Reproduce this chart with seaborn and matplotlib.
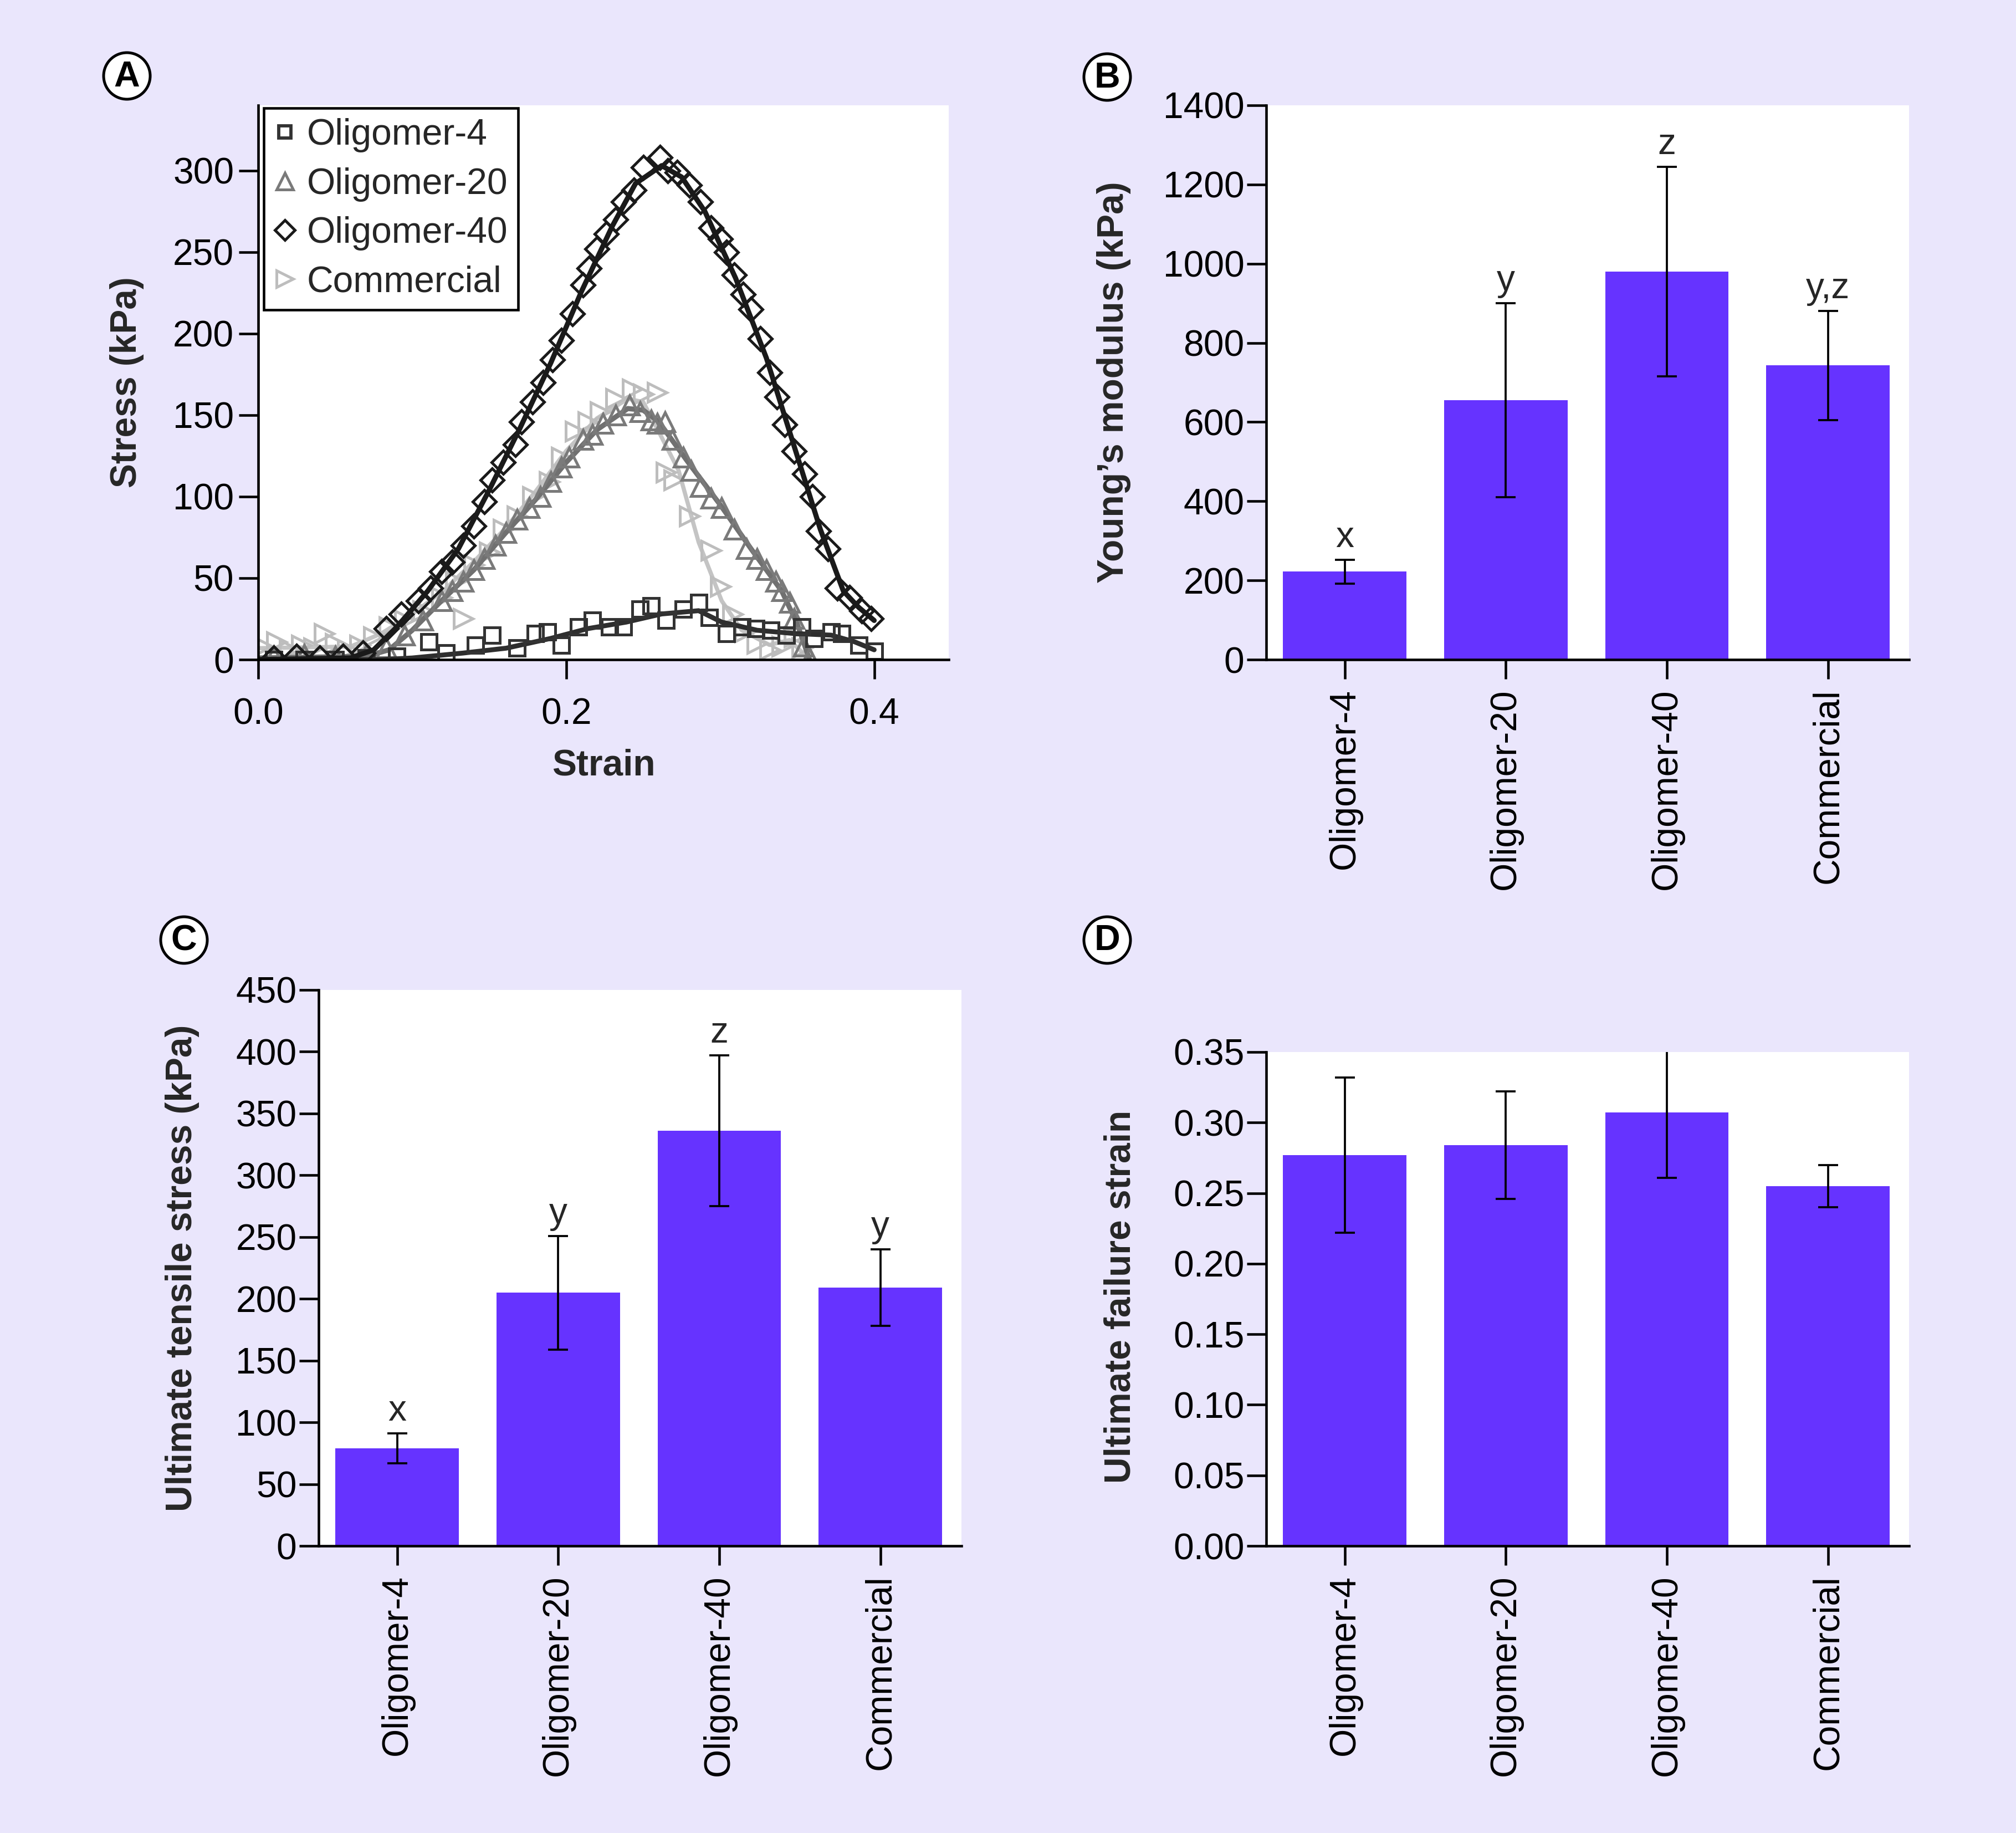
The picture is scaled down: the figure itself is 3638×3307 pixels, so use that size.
import numpy as np
import pandas as pd
import matplotlib
matplotlib.use("Agg")
import matplotlib.pyplot as plt
import seaborn as sns
from matplotlib.patches import Circle
from matplotlib.lines import Line2D

# ---------------- data ----------------
groups = ["Oligomer-4", "Oligomer-20", "Oligomer-40", "Commercial"]

# Panel A: measured points (strain, stress kPa)
o4_strain = [0.01, 0.03, 0.05, 0.07, 0.09, 0.111, 0.122, 0.141, 0.152, 0.168, 0.180, 0.188, 0.197,
             0.208, 0.217, 0.228, 0.237, 0.248, 0.255, 0.265, 0.276, 0.286, 0.293, 0.304, 0.314,
             0.323, 0.333, 0.343, 0.353, 0.361, 0.372, 0.379, 0.390, 0.400]
o4_stress = [0, 0, 0, 1, 2, 11, 4, 9, 15, 7, 16, 17, 9,
             20, 24, 20, 20, 31, 33, 24, 31, 35, 26, 16, 20,
             19, 18, 15, 20, 13, 17, 16, 9, 5]
o4_fit_strain = [0.0, 0.08, 0.10, 0.133, 0.161, 0.19, 0.214, 0.239, 0.262, 0.286, 0.301, 0.324, 0.348, 0.372, 0.387, 0.40]
o4_fit_stress = [0, 0, 1, 4, 7, 13, 19, 23, 28, 30, 23, 18, 16, 15, 11, 6]

o20_strain = [0.01, 0.03, 0.05, 0.07, 0.083, 0.095, 0.107, 0.119, 0.126, 0.133, 0.140, 0.147, 0.154,
              0.161, 0.168, 0.176, 0.183, 0.190, 0.197, 0.202, 0.211, 0.217, 0.224, 0.232, 0.241,
              0.248, 0.255, 0.259, 0.264, 0.269, 0.276, 0.281, 0.287, 0.294, 0.301, 0.309, 0.317,
              0.324, 0.330, 0.336, 0.340, 0.345, 0.348, 0.354, 0.358]
o20_stress = [2, 3, 2, 3, 7, 15, 24, 36, 42, 48, 55, 62, 70,
              78, 86, 93, 100, 109, 118, 124, 135, 138, 145, 150, 156,
              152, 147, 145, 146, 135, 124, 116, 106, 99, 93, 80, 68,
              62, 55, 48, 42, 35, 25, 8, 1]
o20_fit_strain = [0.0, 0.07, 0.085, 0.10, 0.12, 0.14, 0.16, 0.18, 0.20, 0.22, 0.24, 0.25, 0.26, 0.28, 0.30, 0.32, 0.34, 0.35, 0.358]
o20_fit_stress = [1, 2, 6, 18, 37, 55, 77, 98, 121, 141, 154, 153, 146, 120, 95, 68, 42, 22, 0]

o40_strain = [0.01, 0.025, 0.04, 0.055, 0.068, 0.083, 0.093, 0.104, 0.112, 0.119, 0.126, 0.133, 0.140,
              0.147, 0.152, 0.159, 0.167, 0.171, 0.178, 0.185, 0.191, 0.197, 0.204, 0.211, 0.215,
              0.220, 0.226, 0.232, 0.237, 0.244, 0.250, 0.261, 0.266, 0.272, 0.280, 0.287, 0.294,
              0.300, 0.304, 0.309, 0.315, 0.320, 0.326, 0.332, 0.337, 0.342, 0.348, 0.355, 0.360,
              0.364, 0.370, 0.376, 0.384, 0.392, 0.398]
o40_stress = [1, 2, 1, 2, 4, 19, 28, 36, 44, 54, 60, 70, 82,
              97, 110, 121, 132, 146, 158, 170, 184, 196, 212, 230, 240,
              252, 261, 270, 281, 288, 302, 308, 300, 299, 291, 281, 265,
              258, 250, 236, 224, 215, 197, 176, 161, 144, 128, 114, 100,
              79, 68, 44, 38, 30, 25]
o40_fit_strain = [0.0, 0.06, 0.075, 0.09, 0.11, 0.13, 0.15, 0.17, 0.19, 0.21, 0.23, 0.245, 0.262,
                  0.275, 0.29, 0.31, 0.33, 0.35, 0.365, 0.38, 0.39, 0.40]
o40_fit_stress = [0, 1, 6, 20, 42, 68, 104, 142, 182, 226, 266, 292, 303,
                  296, 275, 234, 185, 125, 80, 42, 32, 24]

com_strain = [0.003, 0.012, 0.02, 0.028, 0.036, 0.043, 0.05, 0.058, 0.066, 0.075, 0.085, 0.095, 0.107,
              0.119, 0.128, 0.133, 0.140, 0.150, 0.159, 0.168, 0.178, 0.189, 0.197, 0.206, 0.214,
              0.222, 0.232, 0.243, 0.250, 0.259, 0.265, 0.270, 0.280, 0.294, 0.300, 0.308, 0.316,
              0.324, 0.332, 0.340, 0.348, 0.353]
com_stress = [8, 11, 6, 9, 7, 16, 10, 6, 9, 14, 20, 24, 30,
              38, 48, 25, 58, 66, 80, 88, 100, 109, 124, 140, 146,
              152, 160, 166, 163, 164, 115, 110, 88, 67, 45, 28, 17,
              10, 6, 8, 14, 7]
com_fit_strain = [0.0, 0.06, 0.08, 0.10, 0.12, 0.14, 0.16, 0.18, 0.20, 0.22, 0.24, 0.25, 0.26, 0.273,
                  0.286, 0.301, 0.314, 0.332, 0.345, 0.356]
com_fit_stress = [7, 8, 16, 28, 42, 60, 80, 103, 128, 148, 160, 158, 140, 116,
                  72, 36, 18, 9, 12, 2]

# Panel B: Young's modulus (kPa)
modulus_mean = [222, 655, 980, 743]
modulus_err = [30, 245, 265, 138]
modulus_letters = ["x", "y", "z", "y,z"]

# Panel C: Ultimate tensile stress (kPa)
uts_mean = [79, 205, 336, 209]
uts_err = [12, 46, 61, 31]
uts_letters = ["x", "y", "z", "y"]

# Panel D: Ultimate failure strain
ufs_mean = [0.277, 0.284, 0.307, 0.255]
ufs_err = [0.055, 0.038, 0.046, 0.015]

# ---------------- style ----------------
sns.set_style("ticks")
plt.rcParams['font.family'] = ['Liberation Sans', 'DejaVu Sans']
plt.rcParams['axes.linewidth'] = 1.1
plt.rcParams['xtick.major.width'] = 1.1
plt.rcParams['ytick.major.width'] = 1.1

BG = "#EAE6FC"
BAR = "#6633FF"
FS = 15.8
LFS = 15.8

W, H, DPI = 3638, 3307, 300
fig = plt.figure(figsize=(W / DPI, H / DPI), dpi=DPI, facecolor=BG)

def frac(left, top, right, bottom):
    return [left / W, 1 - bottom / H, (right - left) / W, (bottom - top) / H]

axA = fig.add_axes(frac(466, 190, 1712, 1190))
axB = fig.add_axes(frac(2285, 190, 3445, 1190))
axC = fig.add_axes(frac(575, 1786, 1735, 2789))
axD = fig.add_axes(frac(2285, 1898, 3445, 2789))

def style_axes(ax):
    ax.set_facecolor("white")
    for s in ["top", "right"]:
        ax.spines[s].set_visible(False)
    for s in ["left", "bottom"]:
        ax.spines[s].set_color("black")
    ax.tick_params(axis="both", direction="out", length=8.5, width=1.1, colors="black",
                   labelsize=FS, pad=2)

# ---------------- Panel A ----------------
style_axes(axA)
series = [
    ("Commercial", com_strain, com_stress, com_fit_strain, com_fit_stress, ">", "#BDBDBD", "#C4C4C4", 8, 1.8),
    ("Oligomer-20", o20_strain, o20_stress, o20_fit_strain, o20_fit_stress, "^", "#7A7A7A", "#707070", 8, 2.2),
    ("Oligomer-4", o4_strain, o4_stress, o4_fit_strain, o4_fit_stress, "s", "#333333", "#2E2E2E", 6.5, 2.1),
    ("Oligomer-40", o40_strain, o40_stress, o40_fit_strain, o40_fit_stress, "D", "#1A1A1A", "#1A1A1A", 7.2, 2.2),
]
for name, sx, sy, fx, fy, mk, mc, lc, ms, lw in series:
    sns.lineplot(x=fx, y=fy, ax=axA, color=lc, lw=lw, sort=False, estimator=None, legend=False)
    axA.plot(sx, sy, ls="none", marker=mk, mfc="none", mec=mc, ms=ms, mew=1.2)

axA.set_xlim(0, 0.4484)
axA.set_ylim(0, 340)
axA.set_xticks([0.0, 0.2, 0.4])
axA.set_xticklabels(["0.0", "0.2", "0.4"])
axA.set_yticks(np.arange(0, 301, 50))
axA.set_xlabel("Strain", fontsize=LFS, fontweight="bold")
axA.set_ylabel("Stress (kPa)", fontsize=LFS, fontweight="bold")
axA.xaxis.set_label_coords(0.5, -0.16)
axA.yaxis.set_label_coords(-0.165, 0.5)
axA.tick_params(axis="x", pad=8)

handles = [
    Line2D([], [], ls="none", marker="s", mfc="none", mec="#333333", ms=5.5, mew=1.4),
    Line2D([], [], ls="none", marker="^", mfc="none", mec="#7A7A7A", ms=7, mew=1.2),
    Line2D([], [], ls="none", marker="D", mfc="none", mec="#1A1A1A", ms=6, mew=1.2),
    Line2D([], [], ls="none", marker=">", mfc="none", mec="#BDBDBD", ms=7, mew=1.2),
]
leg = axA.legend(handles, ["Oligomer-4", "Oligomer-20", "Oligomer-40", "Commercial"],
                 loc="upper left", bbox_to_anchor=(0.008, 0.995), borderaxespad=0,
                 fontsize=FS, frameon=True, fancybox=False, edgecolor="black",
                 framealpha=1, handlelength=0.6, handletextpad=0.3, borderpad=0.28,
                 labelspacing=0.4)
leg.get_frame().set_linewidth(1.1)

# ---------------- bar panels ----------------
def bar_panel(ax, means, errs, letters, ylim, yticks, ylabel, labx, laby, letter_off, fmt=None):
    style_axes(ax)
    df = pd.DataFrame({"group": groups, "value": means})
    sns.barplot(data=df, x="group", y="value", color=BAR, saturation=1, width=0.766,
                errorbar=None, ax=ax, linewidth=0)
    ax.errorbar(np.arange(len(groups)), means, yerr=errs, fmt="none", ecolor="black",
                elinewidth=0.9, capsize=4.3, capthick=0.9)
    if letters is not None:
        for i, (m, e, t) in enumerate(zip(means, errs, letters)):
            ax.annotate(t, (i, m + e), xytext=(0, letter_off), textcoords="offset points",
                        ha="center", va="baseline", fontsize=FS)
    ax.set_xlim(-0.487, 3.503)
    ax.set_ylim(*ylim)
    ax.set_yticks(yticks)
    if fmt:
        ax.set_yticklabels([fmt.format(v) for v in yticks])
    ax.set_xlabel("")
    ax.set_ylabel(ylabel, fontsize=LFS, fontweight="bold")
    ax.yaxis.set_label_coords(labx, laby)
    ax.tick_params(axis="x", rotation=90, pad=4)
    ax.tick_params(axis="y", pad=1)

bar_panel(axB, modulus_mean, modulus_err, modulus_letters, (0, 1400), np.arange(0, 1401, 200),
          "Young\u2019s modulus (kPa)", -0.21, 0.5, 5.5)
bar_panel(axC, uts_mean, uts_err, uts_letters, (0, 450), np.arange(0, 451, 50),
          "Ultimate tensile stress (kPa)", -0.185, 0.5, 5.5)
bar_panel(axD, ufs_mean, ufs_err, None, (0, 0.35), np.round(np.arange(0, 0.351, 0.05), 2),
          "Ultimate failure strain", -0.20, 0.505, 5.5, fmt="{:.2f}")

# ---------------- panel letters ----------------
for lab, (px, py) in zip("ABCD", [(229, 137), (1998, 139), (332, 1696), (1998, 1696)]):
    cx, cy = px / DPI, (H - py) / DPI
    fig.add_artist(Circle((cx, cy), 42 / DPI, transform=fig.dpi_scale_trans,
                          facecolor="white", edgecolor="black", lw=1.2))
    fig.text(cx, cy - 1.5 / DPI, lab, transform=fig.dpi_scale_trans, ha="center", va="center",
             fontsize=15.5, fontweight="bold", color="black")

fig.savefig("out.png", dpi=DPI, facecolor=BG)
